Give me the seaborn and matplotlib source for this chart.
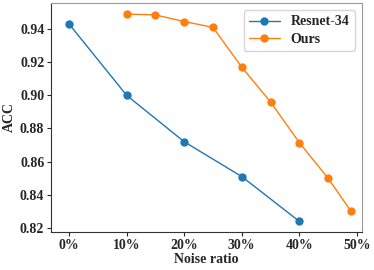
import matplotlib
matplotlib.use("Agg")
import matplotlib.pyplot as plt
import pandas as pd
import seaborn as sns

RESNET_NOISE = [0, 10, 20, 30, 40]
RESNET_ACC = [0.943, 0.900, 0.872, 0.851, 0.824]
OURS_NOISE = [10, 15, 20, 25, 30, 35, 40, 45, 49]
OURS_ACC = [0.949, 0.9485, 0.9445, 0.941, 0.917, 0.896, 0.8715, 0.850, 0.830]
X_TICKS = [0, 10, 20, 30, 40, 50]
X_TICK_LABELS = ["0%", "10%", "20%", "30%", "40%", "50%"]
Y_TICKS = [0.82, 0.84, 0.86, 0.88, 0.90, 0.92, 0.94]

data = pd.concat([
    pd.DataFrame({"noise": RESNET_NOISE, "acc": RESNET_ACC, "model": "Resnet-34"}),
    pd.DataFrame({"noise": OURS_NOISE, "acc": OURS_ACC, "model": "Ours"}),
])

sns.set_style("ticks")
plt.rcParams["font.family"] = ["Liberation Serif", "DejaVu Serif"]
plt.rcParams["font.weight"] = "bold"

fig, ax = plt.subplots(figsize=(3.74, 2.70), dpi=100)
sns.lineplot(
    data=data, x="noise", y="acc", hue="model",
    palette=["#1f77b4", "#ff7f0e"], marker="o", markersize=6,
    markeredgewidth=0, linewidth=1, ax=ax,
)
ax.set_xlim(-3.1, 50.9)
ax.set_ylim(0.8176, 0.9557)
ax.set_xticks(X_TICKS)
ax.set_xticklabels(X_TICK_LABELS)
ax.set_yticks(Y_TICKS)
ax.set_yticklabels([f"{v:.2f}" for v in Y_TICKS])
ax.tick_params(labelsize=10, length=3, width=0.8, pad=2)
ax.set_xlabel("Noise ratio", fontsize=10, fontweight="bold", labelpad=1)
ax.set_ylabel("ACC", fontsize=10, fontweight="bold", labelpad=3)
for side in ["left", "bottom"]:
    ax.spines[side].set_color("#333333")
for side in ["top", "right"]:
    ax.spines[side].set_color("#999999")
ax.legend(title=None, fontsize=10, loc="upper right", frameon=True,
          handlelength=2.2, borderpad=0.4, labelspacing=0.3)

fig.subplots_adjust(left=0.137, right=0.968, top=0.989, bottom=0.141)
fig.savefig("out.png", dpi=100)
